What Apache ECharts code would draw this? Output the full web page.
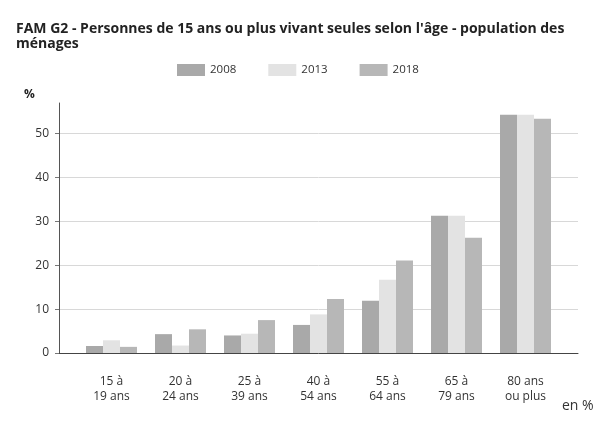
<!DOCTYPE html>
<html><head><meta charset="utf-8">
<script src="https://cdn.jsdelivr.net/npm/echarts@6/dist/echarts.min.js"></script>
<style>html,body{margin:0;padding:0;background:#fff}#c{width:596px;height:432px}</style>
</head><body><div id="c"></div>
<script>
const categories = ["15 à\n19 ans","20 à\n24 ans","25 à\n39 ans","40 à\n54 ans","55 à\n64 ans","65 à\n79 ans","80 ans\nou plus"];
const s2008 = [1.6, 4.3, 4.0, 6.4, 11.9, 31.3, 54.3];
const s2013 = [2.9, 1.7, 4.4, 8.8, 16.7, 31.3, 54.3];
const s2018 = [1.4, 5.4, 7.5, 12.3, 21.1, 26.3, 53.4];
const seriesNames = ["2008","2013","2018"];
const colors = ["#a9a9a9","#e3e3e3","#b7b7b7"];
const font = "'Open Sans', sans-serif";
const chart = echarts.init(document.getElementById('c'));
const mk = (name, data, i) => ({
  name, type:'bar', data, xAxisIndex:1, yAxisIndex:1,
  barWidth:17, barGap:'0%', itemStyle:{color:colors[i]}
});
chart.setOption({
  animation:false,
  title:{
    text:"FAM G2 - Personnes de 15 ans ou plus vivant seules selon l'âge - population des\nménages",
    left:11, top:17,
    textStyle:{fontFamily:font, fontSize:14, fontWeight:'bold', color:'#222', lineHeight:15}
  },
  legend:{
    left:172, top:59, itemWidth:28, itemHeight:12, itemGap:32,
    icon:'rect',
    textStyle:{fontFamily:font, fontSize:11.5, color:'#333'},
    data:seriesNames
  },
  graphic:[
    {type:'text', left:24, top:89, style:{text:'%', font:"bold 12px 'Open Sans', sans-serif", fill:'#222'}},
    {type:'text', left:562, top:399, style:{text:'en %', font:"14px 'Open Sans', sans-serif", fill:'#333'}}
  ],
  grid:[
    {left:59, right:18, top:103, bottom:79},
    {left:77, right:36, top:103, bottom:79}
  ],
  xAxis:[
    {type:'value', gridIndex:0, min:0, max:1, axisLine:{show:true, lineStyle:{color:'#444', width:1}},
     axisTick:{show:false}, axisLabel:{show:false}, splitLine:{show:false}},
    {type:'category', gridIndex:1, data:categories, axisLine:{show:false}, axisTick:{show:false},
     axisLabel:{fontFamily:font, fontSize:12, color:'#333', lineHeight:15, margin:21, interval:0}}
  ],
  yAxis:[
    {type:'value', gridIndex:0, min:0, max:57, interval:10,
     axisLine:{show:true, lineStyle:{color:'#555'}},
     axisTick:{show:true, length:4, lineStyle:{color:'#777'}},
     axisLabel:{fontFamily:font, fontSize:12, color:'#333', margin:10, showMaxLabel:false,
       formatter:v => (v % 10 === 0 ? String(v) : '')},
     splitLine:{show:true, showMaxLine:false, lineStyle:{color:'#d8d8d8'}}},
    {type:'value', gridIndex:1, min:0, max:57, show:false, splitLine:{show:false}}
  ],
  series:[mk(seriesNames[0], s2008, 0), mk(seriesNames[1], s2013, 1), mk(seriesNames[2], s2018, 2)]
});
</script></body></html>
